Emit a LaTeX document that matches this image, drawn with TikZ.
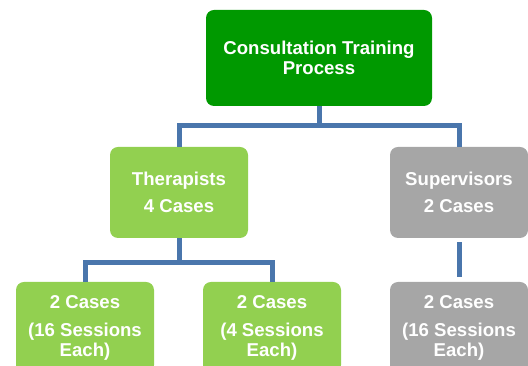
\documentclass[tikz,border=0pt]{standalone}
\usepackage{fontspec}
\setmainfont{Liberation Sans}
\usetikzlibrary{positioning}
\definecolor{topgreen}{RGB}{0,153,0}
\definecolor{litegreen}{RGB}{146,208,80}
\definecolor{boxgray}{RGB}{166,166,166}
\definecolor{linkblue}{RGB}{74,118,172}

\begin{document}
\begin{tikzpicture}[
  x=1pt,y=1pt,
  box/.style={rounded corners=8pt,align=center,text=white,inner sep=0pt,
    font=\fontsize{18.6}{20}\selectfont\bfseries,minimum width=138pt,minimum height=91pt},
  link/.style={draw=linkblue,line width=5pt}
]
\useasboundingbox (0,0) rectangle (528,366);
\node[box,fill=topgreen,minimum width=226pt,minimum height=96pt] (proc) at (319,308) {Consultation Training\\Process};
\node[box,fill=litegreen] (ther) at (179,173.5) {Therapists\\[7pt]4 Cases};
\node[box,fill=boxgray] (sup) at (459,173.5) {Supervisors\\[7pt]2 Cases};
\node[box,fill=litegreen] (tlong) at (85,38.5) {2 Cases\\[8pt](16 Sessions\\Each)};
\node[box,fill=litegreen] (tshort) at (272,38.5) {2 Cases\\[8pt](4 Sessions\\Each)};
\node[box,fill=boxgray] (slong) at (459,38.5) {2 Cases\\[8pt](16 Sessions\\Each)};
\draw[link] (proc.south) -- +(0,-19) -| (ther.north);
\draw[link] (proc.south) -- +(0,-19) -| (sup.north);
\draw[link] (ther.south) -- +(0,-24) -| (tlong.north);
\draw[link] (ther.south) -- +(0,-24) -| (tshort.north);
\draw[link,shorten <=4pt,shorten >=5pt] (sup.south) -- (slong.north);
\end{tikzpicture}
\end{document}
